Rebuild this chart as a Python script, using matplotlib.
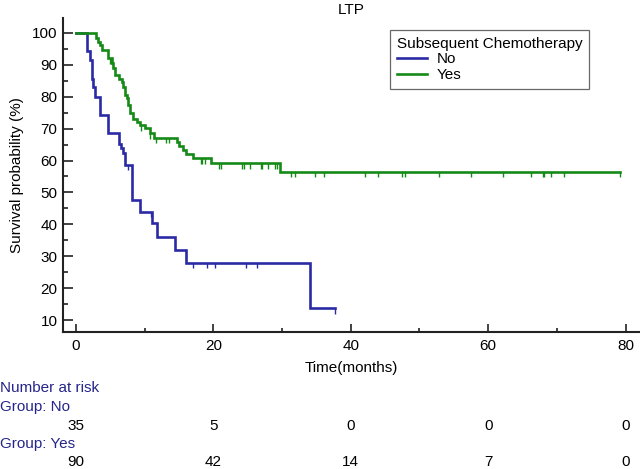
import numpy as np
import matplotlib.pyplot as plt
from matplotlib.ticker import MultipleLocator
import matplotlib.transforms as mtransforms

plt.rcParams['font.family'] = ['Liberation Sans', 'DejaVu Sans']

# Kaplan-Meier steps (time in months, survival %)
no_times = [0, 1.55, 2.04, 2.28, 2.5, 2.77, 3.49, 4.7, 6.3, 6.55, 6.8, 7.1,
            8.1, 9.3, 11.0, 11.8, 14.4, 16.0, 34.1, 37.7]
no_surv = [100, 94.3, 91.4, 85.7, 82.9, 80.0, 74.3, 68.6, 65.3, 63.8, 62.2, 58.6,
           47.6, 44.0, 40.3, 36.1, 32.1, 28.0, 13.7, 13.7]
no_censor = [7.6, 10.9, 17.0, 19.0, 20.3, 24.8, 26.3, 37.7]

yes_times = [0, 2.9, 3.25, 3.5, 3.74, 4.7, 5.2, 5.4, 5.7, 6.3, 6.65, 6.9, 7.1,
             7.4, 7.6, 7.86, 8.25, 8.9, 9.3, 10.0, 10.8, 11.35, 14.65, 15.0,
             15.6, 16.0, 17.1, 19.6, 29.7, 79.2]
yes_surv = [100, 98.3, 97.3, 96.3, 94.6, 92.0, 90.5, 88.9, 86.8, 85.7, 84.7, 83.1,
            80.5, 79.5, 77.4, 75.0, 72.9, 72.2, 71.1, 70.1, 68.5, 67.2, 65.9, 64.6,
            63.3, 62.0, 60.7, 59.1, 56.5, 56.5]
yes_censor = [4.9, 5.15, 9.4, 10.8, 11.7, 13.1, 13.6, 18.15, 18.4, 18.8, 20.8,
              21.1, 24.1, 24.5, 25.3, 26.9, 27.1, 28.0, 28.9, 29.3, 31.3, 31.9,
              34.8, 36.1, 42.1, 43.9, 47.4, 47.9, 52.8, 57.5, 62.2, 66.3, 68.0,
              68.1, 69.1, 71.1, 79.2]

risk_times = [0, 20, 40, 60, 80]
risk_no = [35, 5, 0, 0, 0]
risk_yes = [90, 42, 14, 7, 0]

blue = '#2a2aa6'
green = '#168a16'
navy = '#25258a'
fs = 11


def level_at(times, surv, t):
    i = np.searchsorted(times, t, side='right') - 1
    return surv[i]


fig = plt.figure(figsize=(6.4, 4.69), dpi=100)
ax = fig.add_axes([63 / 640, 137 / 469, 577 / 640, 314 / 469])

for times, surv, cens, col, lab in [(no_times, no_surv, no_censor, blue, 'No'),
                                     (yes_times, yes_surv, yes_censor, green, 'Yes')]:
    ax.step(times, surv, where='post', color=col, lw=1.9, label=lab,
            solid_joinstyle='miter')
    lv = np.array([level_at(times, surv, t) for t in cens])
    ax.vlines(cens, lv - 1.7, lv, color=col, lw=1.0)

ax.set_xlim(-1.89, 82.1)
ax.set_ylim(6.24, 104.67)

ax.spines['right'].set_color('none')
ax.spines['top'].set_color('none')
for s in ['left', 'bottom']:
    ax.spines[s].set_linewidth(1.5)
    ax.spines[s].set_color('#222222')

ax.xaxis.set_major_locator(MultipleLocator(20))
ax.xaxis.set_minor_locator(MultipleLocator(10))
ax.set_yticks(range(10, 101, 10))
ax.set_yticks(range(15, 100, 10), minor=True)
ax.tick_params(axis='y', which='major', direction='in', length=7.2, width=1.2,
               labelsize=fs, pad=4, color='#222222')
ax.tick_params(axis='y', which='minor', direction='in', length=3.6, width=1.2,
               color='#222222')
ax.tick_params(axis='x', which='major', direction='in', length=5.8, width=1.2,
               labelsize=fs, pad=5, color='#222222')
ax.tick_params(axis='x', which='minor', direction='in', length=3.0, width=1.2,
               color='#222222')

ax.set_xlabel('Time(months)', fontsize=fs, labelpad=6)
ax.set_ylabel('Survival probability (%)', fontsize=fs, labelpad=6)
ax.set_title('LTP', fontsize=fs, pad=3)

leg = ax.legend(title='Subsequent Chemotherapy', loc='upper left',
                bbox_to_anchor=(390 / 640, 1 - 30 / 469),
                bbox_transform=fig.transFigure, borderaxespad=0,
                fancybox=False, edgecolor='#444444', fontsize=fs,
                title_fontsize=fs, handlelength=2.0, handletextpad=0.6,
                labelspacing=0.1, borderpad=0.45, alignment='left')
leg.get_frame().set_linewidth(0.9)

# number at risk table
trans = mtransforms.blended_transform_factory(ax.transData, fig.transFigure)
fig.text(0.0, 1 - 388 / 469, 'Number at risk', color=navy, fontsize=fs,
         va='center', ha='left')
fig.text(0.0, 1 - 407 / 469, 'Group: No', color=navy, fontsize=fs,
         va='center', ha='left')
fig.text(0.0, 1 - 444 / 469, 'Group: Yes', color=navy, fontsize=fs,
         va='center', ha='left')
for t, n in zip(risk_times, risk_no):
    ax.text(t, 1 - 426 / 469, str(n), transform=trans, ha='center', va='center',
            fontsize=fs, clip_on=False)
for t, n in zip(risk_times, risk_yes):
    ax.text(t, 1 - 462 / 469, str(n), transform=trans, ha='center', va='center',
            fontsize=fs, clip_on=False)

plt.savefig('out.png', dpi=100)
